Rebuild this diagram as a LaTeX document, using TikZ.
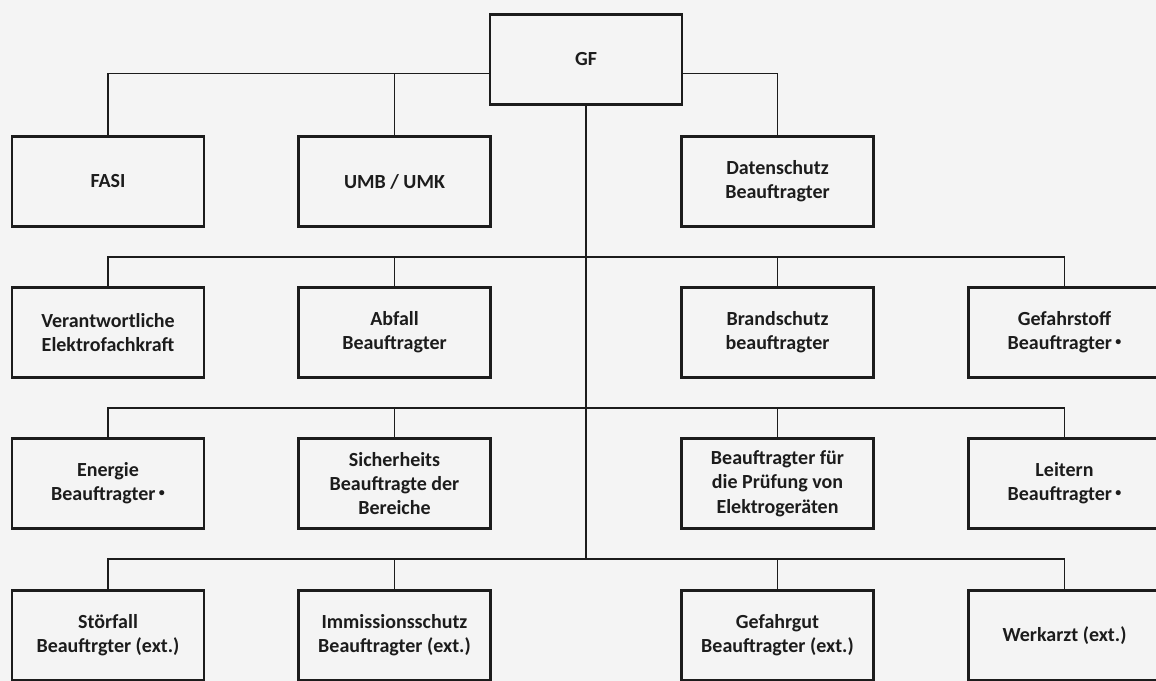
\documentclass[tikz,border=0pt]{standalone}
\usepackage{fontspec}
\setmainfont{Carlito}
\definecolor{bg}{HTML}{F4F4F4}
\definecolor{ink}{HTML}{1C1C1C}
\tikzset{
  box/.style={draw=ink, line width=2.2pt, fill=bg, text=ink, minimum width=144pt, minimum height=68pt,
    inner sep=0pt, outer sep=0pt, align=center, font=\fontsize{15}{18.2}\selectfont\bfseries},
  link/.style={draw=ink, line width=1.1pt},
}
\newcommand{\stardot}{\,\raisebox{0.45ex}{\fontsize{9}{9}\selectfont •}}
\begin{document}
\begin{tikzpicture}[x=0.75pt,y=-0.75pt]
\fill[bg] (0,0) rectangle (1156,681);
\useasboundingbox (0,0) rectangle (1156,681);
\clip (0,0) rectangle (1156,681);
% top
\node[box] (gf) at (586,59.5) {GF};
% row 1
\node[box] (fasi) at (108,181.5) {FASI};
\node[box] (umb) at (394.5,181.5) {UMB / UMK};
\node[box] (ds) at (777.5,181.5) {Datenschutz\\Beauftragter};
% row 2
\node[box] (vef) at (108,332.5) {Verantwortliche\\Elektrofachkraft};
\node[box] (abf) at (394.5,332.5) {Abfall\\Beauftragter};
\node[box] (brs) at (777.5,332.5) {Brandschutz\\beauftragter};
\node[box] (gfs) at (1064.5,332.5) {Gefahrstoff\\Beauftragter\stardot};
% row 3
\node[box] (ene) at (108,483.5) {Energie\\Beauftragter\stardot};
\node[box] (sib) at (394.5,483.5) {Sicherheits\\Beauftragte der\\Bereiche};
\node[box] (pru) at (777.5,483.5) {Beauftragter für\\die Prüfung von\\Elektrogeräten};
\node[box] (lei) at (1064.5,483.5) {Leitern\\Beauftragter\stardot};
% row 4
\node[box] (stf) at (108,635.5) {Störfall\\Beauftrgter (ext.)};
\node[box] (ims) at (394.5,635.5) {Immissionsschutz\\Beauftragter (ext.)};
\node[box] (gfg) at (777.5,635.5) {Gefahrgut\\Beauftragter (ext.)};
\node[box] (wka) at (1064.5,635.5) {Werkarzt (ext.)};
% junctions
\coordinate (gl) at ([yshift=-10.5pt]gf.west);
\coordinate (gr) at ([yshift=-10.5pt]gf.east);
\coordinate (h2) at (586,257);
\coordinate (h3) at (586,408);
\coordinate (h4) at (586,559);
% connectors
\draw[link] (gl) -| (fasi.north);
\draw[link] (umb.north) -- (umb.north |- gl);
\draw[link] (gr) -| (ds.north);
\draw[link] (gf.south) -- (h4);
\draw[link] (vef.north) |- (h2) -| (gfs.north);
\draw[link] (abf.north) -- (abf.north |- h2);
\draw[link] (brs.north) -- (brs.north |- h2);
\draw[link] (ene.north) |- (h3) -| (lei.north);
\draw[link] (sib.north) -- (sib.north |- h3);
\draw[link] (pru.north) -- (pru.north |- h3);
\draw[link] (stf.north) |- (h4) -| (wka.north);
\draw[link] (ims.north) -- (ims.north |- h4);
\draw[link] (gfg.north) -- (gfg.north |- h4);
\end{tikzpicture}
\end{document}
